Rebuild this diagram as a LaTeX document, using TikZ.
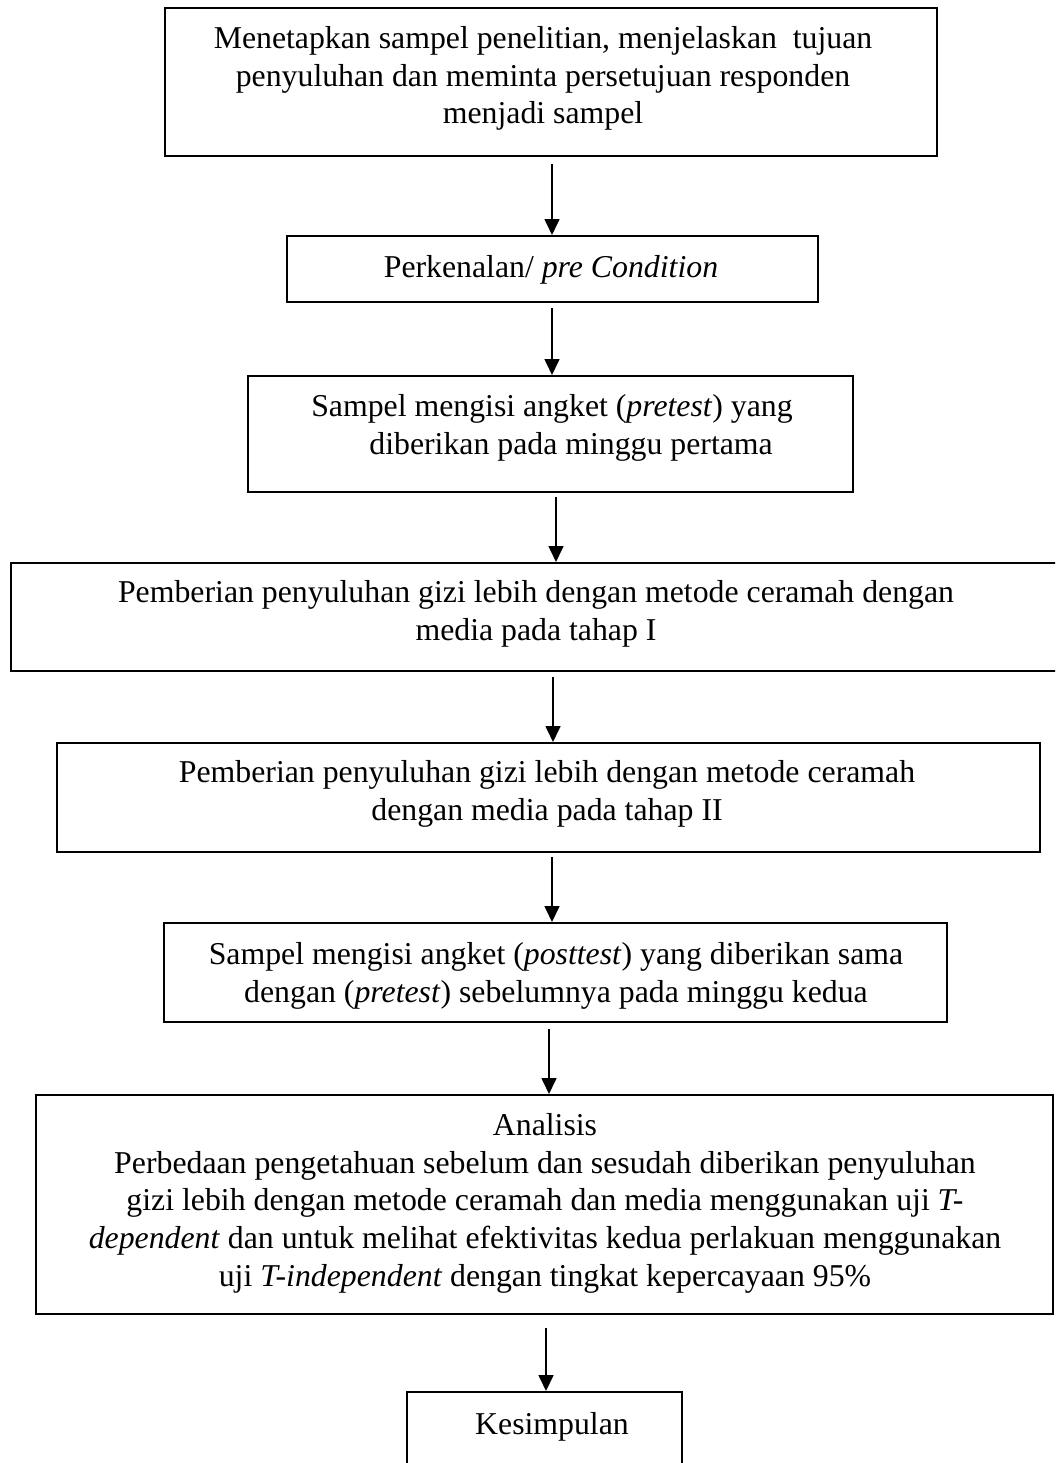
\documentclass[tikz,border=0pt]{standalone}
\usepackage{fontspec}
\setmainfont{Liberation Serif}
\usepackage{tikz}
\usetikzlibrary{arrows.meta}
\usetikzlibrary{fit}
\tikzset{
  box node/.style={rectangle,draw,line width=0.75pt,inner sep=0pt},
  text node/.style={align=center,inner sep=0pt,anchor=north,font=\fontsize{12pt}{14.2pt}\selectfont},
  arr/.style={->,line width=0.7pt}
}

\begin{document}
\begin{tikzpicture}[x=0.3775pt,y=-0.3775pt,
	      >={Triangle[length=6pt,width=5.6pt]}
	    ]
        \useasboundingbox (0,0) rectangle (1055,1463);
        \clip (0,0) rectangle (1055,1463);
        % boxes
        \node [box node,fit={(165,8) (937,156)}] (b1) {};
        \node [box node,fit={(287,236) (818,302)}] (b2) {};
        \node [box node,fit={(248,376) (853,492)}] (b3) {};
        \node [box node,fit={(11,563) (1062,671)}] (b4) {};
        \node [box node,fit={(57,743) (1040,852)}] (b5) {};
        \node [box node,fit={(164,923) (947,1022)}] (b6) {};
        \node [box node,fit={(36,1095) (1053,1314)}] (b7) {};
        \node [box node,fit={(407,1392) (682,1480)}] (b8) {};
        % texts
        \node [text node] (t1) at (543,26) {Menetapkan sampel penelitian, menjelaskan\ \ tujuan\\
          penyuluhan dan meminta persetujuan responden\\
          menjadi sampel};
        \node [text node] (t2) at (551,255) {Perkenalan/ \textit{pre Condition}};
        \node [text node] (t3) at (552,394) {Sampel mengisi angket (\textit{pretest}) yang\\
          \hspace*{1.2em}diberikan pada minggu pertama};
        \node [text node] (t4) at (536,580) {Pemberian penyuluhan gizi lebih dengan metode ceramah dengan\\
          media pada tahap I};
        \node [text node] (t5) at (547,760) {Pemberian penyuluhan gizi lebih dengan metode ceramah\\
          dengan media pada tahap II};
        \node [text node] (t6) at (556,942) {Sampel mengisi angket (\textit{posttest}) yang diberikan sama\\
          dengan (\textit{pretest}) sebelumnya pada minggu kedua};
        \node [text node] (t7) at (545,1113) {Analisis\\
          Perbedaan pengetahuan sebelum dan sesudah diberikan penyuluhan\\
          gizi lebih dengan metode ceramah dan media menggunakan uji \textit{T-}\\
          \textit{dependent} dan untuk melihat efektivitas kedua perlakuan menggunakan\\
          uji \textit{T-independent} dengan tingkat kepercayaan 95\%};
        \node [text node] (t8) at (552,1412) {Kesimpulan};
        % arrows
        \coordinate (c1) at (552,0);
        \coordinate (c3) at (556,0);
        \coordinate (c4) at (553,0);
        \coordinate (c6) at (549,0);
        \coordinate (c7) at (546,0);
        \draw [arr] (b1.south -| c1) ++(0,7) -- (b2.north -| c1);
        \draw [arr] (b2.south -| c1) ++(0,5) -- (b3.north -| c1);
        \draw [arr] (b3.south -| c3) ++(0,4) -- (b4.north -| c3);
        \draw [arr] (b4.south -| c4) ++(0,5) -- (b5.north -| c4);
        \draw [arr] (b5.south -| c1) ++(0,4) -- (b6.north -| c1);
        \draw [arr] (b6.south -| c6) ++(0,6) -- (b7.north -| c6);
        \draw [arr] (b7.south -| c7) ++(0,13) -- (b8.north -| c7);
\end{tikzpicture}
\end{document}
